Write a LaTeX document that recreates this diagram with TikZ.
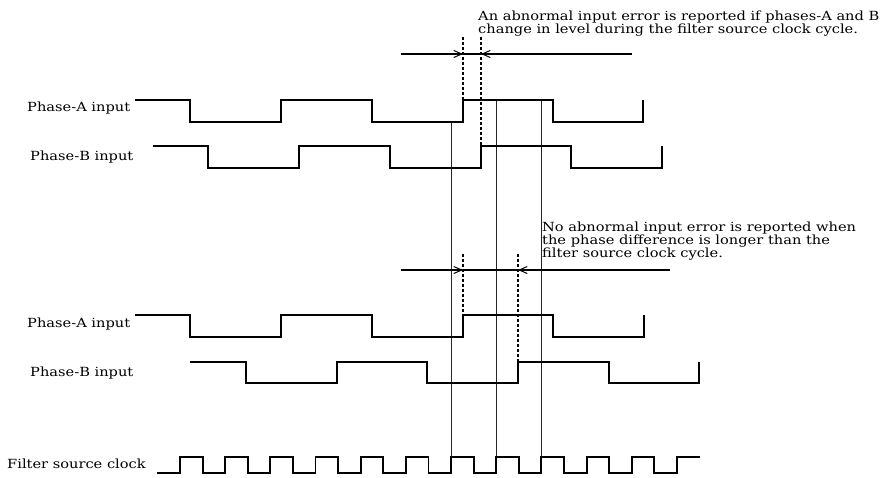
\documentclass[tikz,border=0pt]{standalone}
\usepackage{fontspec}
\setmainfont{DejaVu Serif}[FakeStretch=1.16]
\usetikzlibrary{arrows.meta}
\tikzset{
  wave/.style={line width=1.9pt, line join=miter},
  guide/.style={line width=0.8pt, black!85},
  dotline/.style={line width=1.8pt, dash pattern=on 3pt off 2pt},
  spanline/.style={line width=1.6pt},
  headR/.style={-{Straight Barb[length=8pt,width=7pt,line width=1pt]}, line width=0.01pt},
  lbl/.style={anchor=base west, inner sep=0pt, font=\fontsize{12.6}{13}\selectfont},
}
\begin{document}
\begin{tikzpicture}[x=1pt,y=-1pt]
\useasboundingbox (0,0) rectangle (882,477);

% labels
\node[lbl] (la1) at (27,111) {Phase-A input};
\node[lbl] (lb1) at (30,160) {Phase-B input};
\node[lbl] (la2) at (27,327) {Phase-A input};
\node[lbl] (lb2) at (30,376) {Phase-B input};
\node[lbl] (lc) at (7,468) {Filter source clock};

% annotation texts
\node[lbl] (t1a) at (478,20) {An abnormal input error is reported if phases-A and B};
\node[lbl] (t1b) at (478,33) {change in level during the filter source clock cycle.};
\node[lbl] (t2a) at (542,231) {No abnormal input error is reported when};
\node[lbl] (t2b) at (542,244) {the phase difference is longer than the};
\node[lbl] (t2c) at (542,257) {filter source clock cycle.};

% guide lines at clock edges
\draw[guide] (451,122) -- (451,457);
\draw[guide] (496,100) -- (496,457);
\draw[guide] (541,100) -- (541,457);

% top waveforms
\draw[wave] (135,100) -- (190,100) -- (190,122) -- (281,122) -- (281,100) -- (372,100) -- (372,122)
  -- (463,122) -- (463,100) -- (553,100) -- (553,122) -- (643,122) -- (643,100);
\draw[wave] (153,146) -- (208,146) -- (208,168) -- (299,168) -- (299,146) -- (390,146) -- (390,168)
  -- (481,168) -- (481,146) -- (571,146) -- (571,168) -- (662,168) -- (662,146);

% bottom waveforms
\draw[wave] (135,315) -- (190,315) -- (190,337) -- (281,337) -- (281,315) -- (372,315) -- (372,337)
  -- (463,337) -- (463,315) -- (553,315) -- (553,337) -- (644,337) -- (644,315);
\draw[wave] (190,362) -- (246,362) -- (246,383) -- (337,383) -- (337,362) -- (427,362) -- (427,383)
  -- (518,383) -- (518,362) -- (609,362) -- (609,383) -- (699,383) -- (699,362);

% clock
\draw[wave] (157,473) foreach \k in {0,...,10} {
   -- ({180+45.18*\k},473) -- ({180+45.18*\k},457) -- ({202.6+45.18*\k},457) -- ({202.6+45.18*\k},473) }
   -- (677,473) -- (677,457) -- (700,457);

% top span markers
\coordinate (d1t) at (463,37);
\coordinate (d1b) at (463,100);
\coordinate (d2t) at (481,37);
\coordinate (d2b) at (481,146);
\draw[dotline] (d1t) -- (d1b);
\draw[dotline] (d2t) -- (d2b);
\coordinate (s1l) at (401,54);
\coordinate (s1r) at (632,54);
\draw[spanline] (s1l) -- (s1r);
\draw[headR] (440,54) -- (463,54);
\draw[headR] (500,54) -- (481,54);

% middle span markers
\coordinate (d3t) at (463,254);
\coordinate (d3b) at (463,315);
\coordinate (d4t) at (518,254);
\coordinate (d4b) at (518,362);
\draw[dotline] (d3t) -- (d3b);
\draw[dotline] (d4t) -- (d4b);
\coordinate (s2l) at (401,270);
\coordinate (s2r) at (670,270);
\draw[spanline] (s2l) -- (s2r);
\draw[headR] (440,270) -- (463,270);
\draw[headR] (540,270) -- (518,270);
\end{tikzpicture}
\end{document}
